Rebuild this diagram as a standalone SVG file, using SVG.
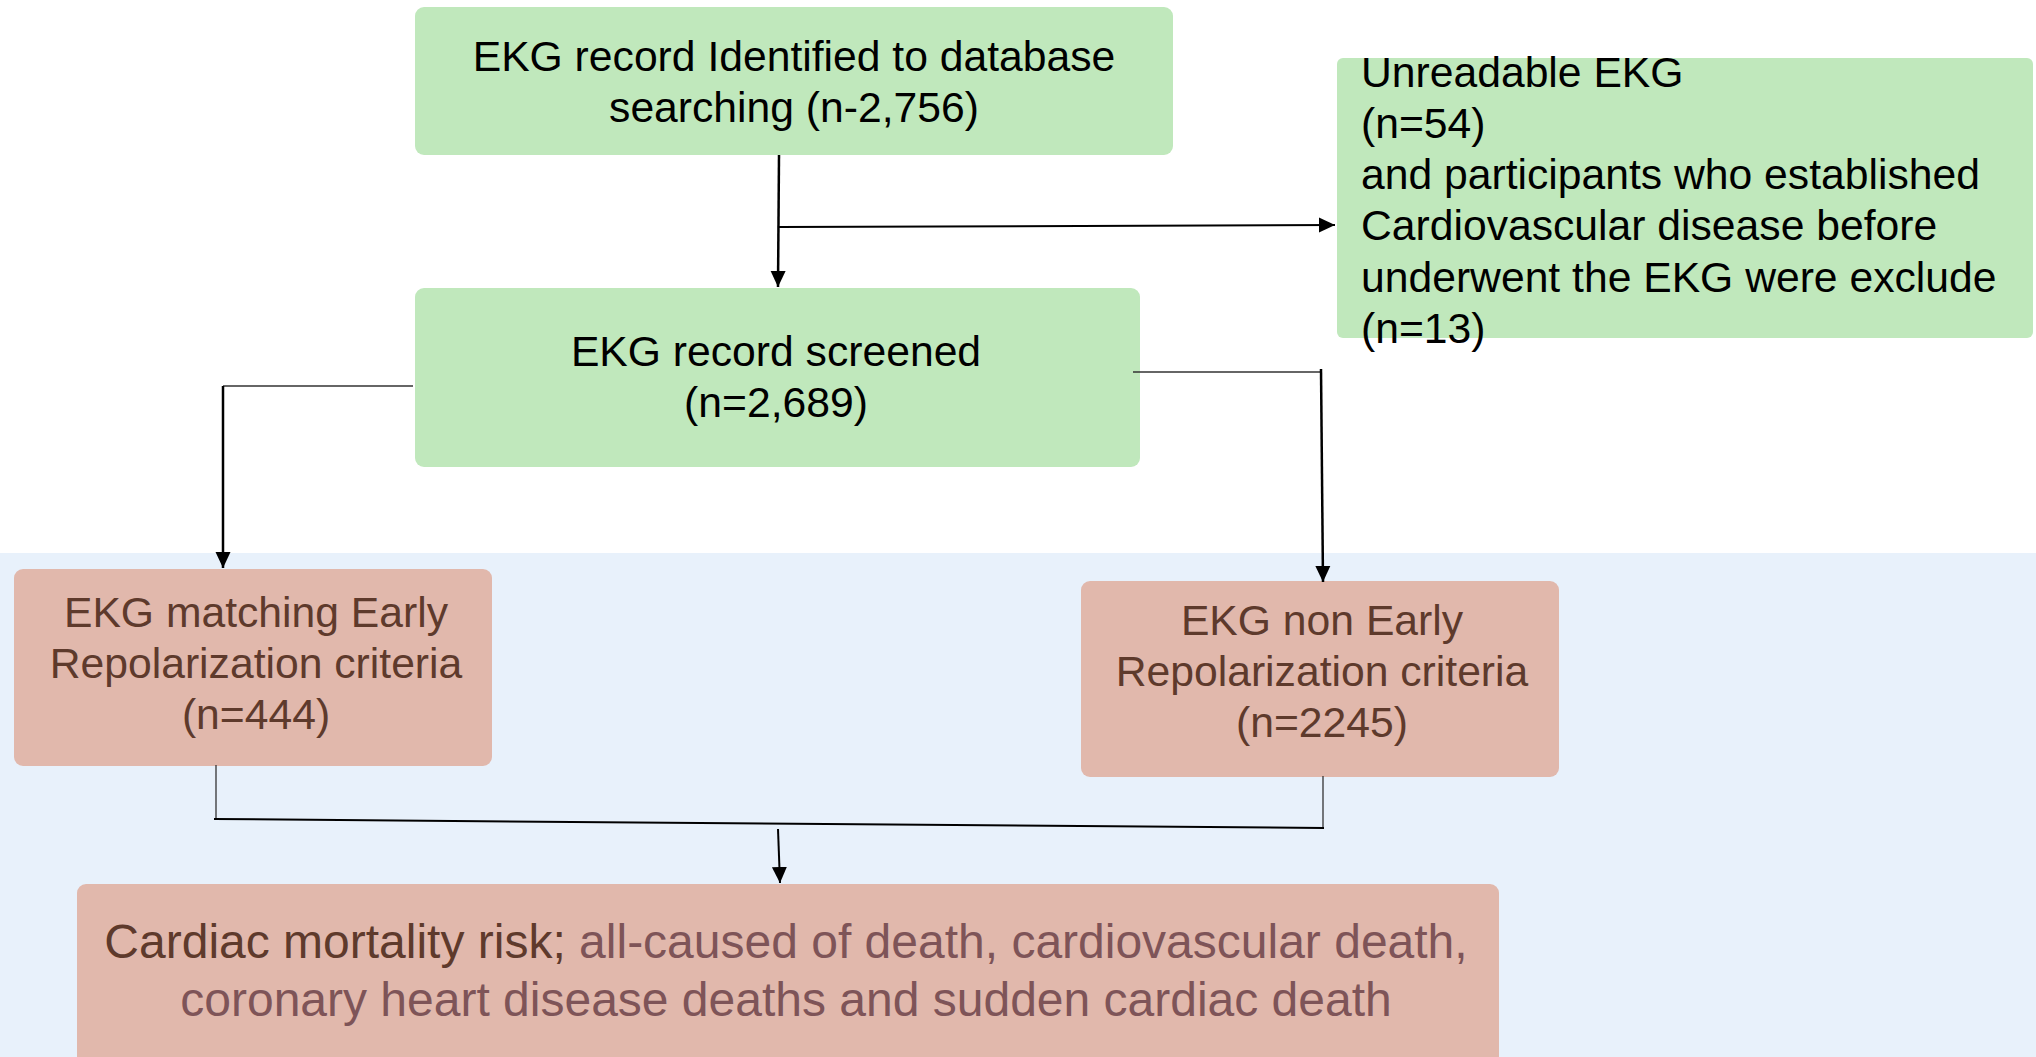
<svg xmlns="http://www.w3.org/2000/svg" width="2036" height="1057" viewBox="0 0 2036 1057">
<defs>
<marker id="arr" markerUnits="userSpaceOnUse" markerWidth="18" markerHeight="18" viewBox="0 0 18 18" refX="16" refY="9" orient="auto">
<path d="M0,1.5 L16,9 L0,16.5 Z" fill="#000"/>
</marker>
<style>
.g{fill:#C0E8BC}
.p{fill:#E1B8AC}
.t{font-family:"Liberation Sans",Arial,sans-serif;font-size:42.67px;fill:#000}
.tb{font-family:"Liberation Sans",Arial,sans-serif;font-size:42.67px;fill:#5E3A2C}
.c{stroke:#000;stroke-width:2.5;fill:none}
.ct{stroke:#333;stroke-width:1.3;fill:none}
</style>
</defs>
<rect x="0" y="0" width="2036" height="1057" fill="#FFFFFF"/>
<rect x="0" y="553" width="2036" height="504" fill="#E8F1FB"/>

<g id="identified">
<rect class="g" x="415" y="7" width="758" height="148" rx="9"/>
<text class="t" text-anchor="middle" x="794" y="71">EKG record Identified to database</text>
<text class="t" text-anchor="middle" x="794" y="122">searching (n-2,756)</text>
</g>

<g id="excluded">
<rect class="g" x="1337" y="58" width="696" height="280" rx="6"/>
<text class="t" x="1361" y="87">Unreadable EKG</text>
<text class="t" x="1361" y="138">(n=54)</text>
<text class="t" x="1361" y="189">and participants who established</text>
<text class="t" x="1361" y="240">Cardiovascular disease before</text>
<text class="t" x="1361" y="292">underwent the EKG were exclude</text>
<text class="t" x="1361" y="343">(n=13)</text>
</g>

<g id="screened">
<rect class="g" x="415" y="288" width="725" height="179" rx="9"/>
<text class="t" text-anchor="middle" x="776" y="366">EKG record screened</text>
<text class="t" text-anchor="middle" x="776" y="417">(n=2,689)</text>
</g>

<g id="matching">
<rect class="p" x="14" y="569" width="478" height="197" rx="9"/>
<text class="tb" text-anchor="middle" x="256" y="627">EKG matching Early</text>
<text class="tb" text-anchor="middle" x="256" y="678">Repolarization criteria</text>
<text class="tb" text-anchor="middle" x="256" y="729">(n=444)</text>
</g>

<g id="nonmatching">
<rect class="p" x="1081" y="581" width="478" height="196" rx="9"/>
<text class="tb" text-anchor="middle" x="1322" y="635">EKG non Early</text>
<text class="tb" text-anchor="middle" x="1322" y="686">Repolarization criteria</text>
<text class="tb" text-anchor="middle" x="1322" y="737">(n=2245)</text>
</g>

<g id="outcome">
<rect class="p" x="77" y="884" width="1422" height="200" rx="9"/>
<text font-family="'Liberation Sans',Arial,sans-serif" font-size="48" text-anchor="middle" x="786" y="958"><tspan fill="#5E3A2C">Cardiac mortality risk;</tspan><tspan fill="#7E5458"> all-caused of death, cardiovascular death,</tspan></text>
<text font-family="'Liberation Sans',Arial,sans-serif" font-size="48" text-anchor="middle" x="786" y="1016" fill="#7E5458">coronary heart disease deaths and sudden cardiac death</text>
</g>

<g id="connectors">
<path class="c" d="M779,155 L778,287" marker-end="url(#arr)"/>
<path class="c" style="stroke-width:2" d="M779,227 L1335,225" marker-end="url(#arr)"/>
<path class="ct" d="M413,386 L223,386"/>
<path class="c" d="M223,386 L223,568" marker-end="url(#arr)"/>
<path class="ct" d="M1133,372 L1321,372"/>
<path class="c" d="M1321,369 L1323,582" marker-end="url(#arr)"/>
<path class="ct" d="M216,765 L216,819"/>
<path class="ct" d="M1323,776 L1323,828"/>
<path class="c" style="stroke-width:2" d="M214,819 L1324,828"/>
<path class="c" style="stroke-width:2" d="M778,829 L780,883" marker-end="url(#arr)"/>
</g>
</svg>
